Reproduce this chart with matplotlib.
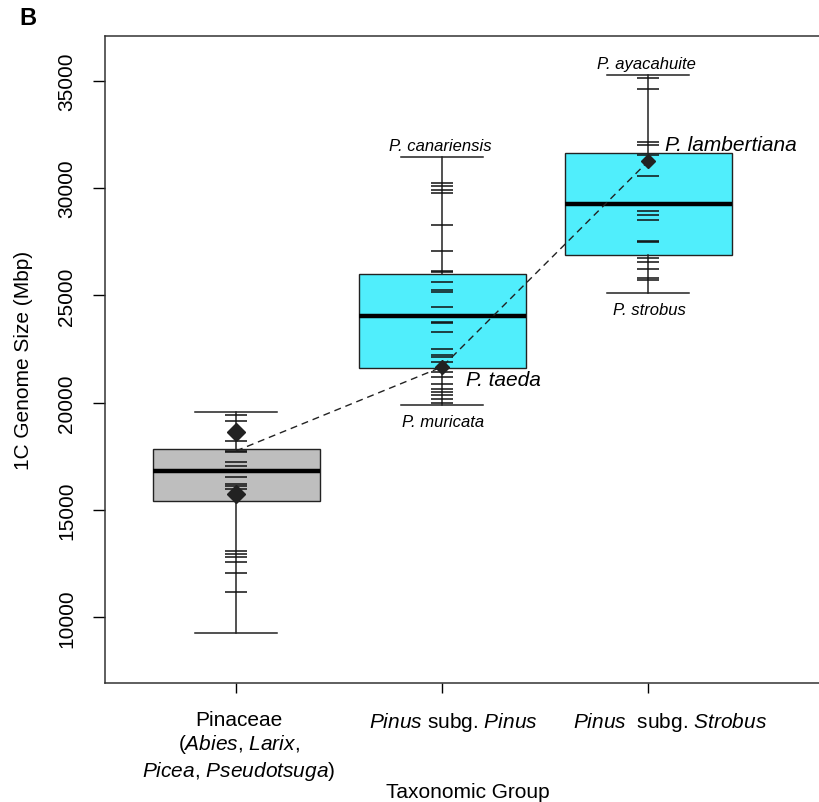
import matplotlib.pyplot as plt
from matplotlib.transforms import ScaledTranslation

plt.rcParams['font.family'] = ['Liberation Sans', 'DejaVu Sans']
plt.rcParams['mathtext.fontset'] = 'custom'
plt.rcParams['mathtext.rm'] = 'Liberation Sans'
plt.rcParams['mathtext.it'] = 'Liberation Sans:italic'

# group labels
groups = ['Pinaceae\n($\\mathit{Abies}$, $\\mathit{Larix}$,\n$\\mathit{Picea}$, $\\mathit{Pseudotsuga}$)',
          '$\\mathit{Pinus}$ subg. $\\mathit{Pinus}$',
          '$\\mathit{Pinus}$  subg. $\\mathit{Strobus}$']
box_colors = ['#bebebe', '#50eefc', '#50eefc']

# box stats (Mbp): whisker low, q1, median, q3, whisker high
whis_lo = [9290, 19874, 25093]
q1 = [15434, 21621, 26883]
med = [16836, 24033, 29252]
q3 = [17850, 25981, 31621]
whis_hi = [19565, 31434, 35266]

# individual species values (rug ticks)
rug_pinaceae = [19440, 19130, 18190, 17720, 17760, 17230, 17070, 16530, 16215,
                16107, 15981, 13100, 12940, 12790, 12560, 12040, 11180]
rug_pinus = [30234, 30079, 29920, 29766, 28257, 27070, 26135, 26100, 25607, 25247,
             25172, 24471, 23770, 23700, 23303, 22476, 22210, 22130, 21901, 21434,
             21200, 20888, 20654, 20498, 20341, 20154, 20000]
rug_strobus = [35110, 34594, 32135, 32023, 31528, 30547, 28939, 28752, 28519,
               27537, 27500, 26760, 26574, 26229, 25827, 25715]
rugs = [rug_pinaceae, rug_pinus, rug_strobus]

# sequenced genomes (diamonds)
diamond_x = [1, 1, 2, 3]
diamond_y = [18630, 15750, 21667, 31248]
diamond_size = [9, 9, 7.5, 7.5]

# dashed connecting line
line_x = [1, 2, 3]
line_y = [17750, 21667, 31248]

# extreme species labels
top_labels = ['', 'P. canariensis', 'P. ayacahuite']
bottom_labels = ['', 'P. muricata', 'P. strobus']

fig = plt.figure(figsize=(8.2, 8.03), dpi=100)
ax = fig.add_axes([0.1284, 0.1476, 0.884, 0.8067])

stats = []
for i in range(3):
    stats.append(dict(whislo=whis_lo[i], q1=q1[i], med=med[i], q3=q3[i], whishi=whis_hi[i]))

bp = ax.bxp(stats, positions=[1, 2, 3], widths=0.81, capwidths=0.4, patch_artist=True,
            showfliers=False,
            boxprops=dict(linewidth=1.0, edgecolor='#222222'),
            medianprops=dict(color='black', linewidth=3.2, solid_capstyle='butt'),
            whiskerprops=dict(color='#222222', linewidth=1.1),
            capprops=dict(color='#222222', linewidth=1.1))
for patch, c in zip(bp['boxes'], box_colors):
    patch.set_facecolor(c)

for i, vals in enumerate(rugs):
    x = i + 1
    ax.hlines(vals, x - 0.052, x + 0.052, color='#111111', linewidth=1.1, zorder=3)

ax.plot(line_x, line_y, linestyle=(0, (5, 3.5)), color='#222222', linewidth=1.0, zorder=4)

for x, y, s in zip(diamond_x, diamond_y, diamond_size):
    ax.plot(x, y, marker='D', markersize=s, color='#222222', zorder=5)

for i in range(3):
    if top_labels[i]:
        ax.annotate(top_labels[i], xy=(i + 1, whis_hi[i]), xytext=(-1, 3),
                    textcoords='offset points', ha='center', va='bottom',
                    fontsize=12, style='italic')
    if bottom_labels[i]:
        ax.annotate(bottom_labels[i], xy=(i + 1, whis_lo[i]), xytext=(1, -6),
                    textcoords='offset points', ha='center', va='top',
                    fontsize=12, style='italic')

ax.annotate('P. taeda', xy=(2, 21667), xytext=(17, -9), textcoords='offset points',
            ha='left', va='center', fontsize=15, style='italic')
ax.annotate('P. lambertiana', xy=(3, 31248), xytext=(12, 12), textcoords='offset points',
            ha='left', va='center', fontsize=15, style='italic')

ax.set_xlim(0.3655, 3.883)
ax.set_ylim(6915, 37097)
ax.set_yticks([10000, 15000, 20000, 25000, 30000, 35000])
ax.set_xticks([1, 2, 3])
ax.set_xticklabels(groups, fontsize=15, linespacing=1.2)
ax.tick_params(axis='y', labelsize=15, length=9, width=1.0, pad=12)
ax.tick_params(axis='x', length=7, width=1.0, pad=12)
for lab in ax.get_yticklabels():
    lab.set_rotation(90)
    lab.set_va('center')
# labels sit a little right of their ticks in the original
shifts = [3, 11, 22]
for lab, dx in zip(ax.get_xticklabels(), shifts):
    lab.set_transform(lab.get_transform() + ScaledTranslation(dx / 100, 0, fig.dpi_scale_trans))

ax.set_ylabel('1C Genome Size (Mbp)', fontsize=15)
ax.yaxis.set_label_coords(-0.1135, 0.5)
ax.yaxis.label.set_va('center')
ax.set_xlabel('Taxonomic Group', fontsize=15)
ax.xaxis.set_label_coords(0.5, -0.1675)
ax.xaxis.label.set_va('center')
for sp in ax.spines.values():
    sp.set_linewidth(1.1)
    sp.set_color('#333333')

fig.text(0.034, 0.977, 'B', fontsize=17, fontweight='bold', va='center', ha='center')

fig.savefig('out.png', dpi=100)
